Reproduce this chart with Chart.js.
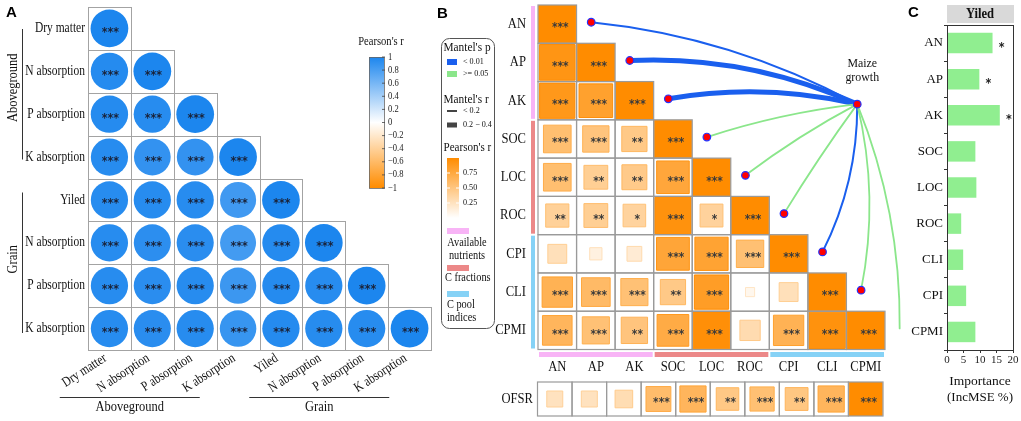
<!DOCTYPE html>
<html><head><meta charset="utf-8">
<script src="https://cdn.jsdelivr.net/npm/chart.js@4.4.1/dist/chart.umd.min.js"></script>
<style>
html,body{margin:0;padding:0;background:#fff;}
#wrap{position:relative;width:1021px;height:421px;overflow:hidden;background:#fff;}
canvas{position:absolute;}
</style></head><body>
<div id="wrap">
<canvas id="cA" width="440" height="421" style="left:0px;top:0px"></canvas>
<canvas id="cB" width="475" height="378" style="left:430px;top:0px"></canvas>
<canvas id="cO" width="475" height="43" style="left:430px;top:378px"></canvas>
<canvas id="cC" width="131" height="421" style="left:890px;top:0px"></canvas>
</div>
<script>
// ---------------- DATA ----------------
// Panel A
const rowsA = ['Dry matter','N absorption','P absorption','K absorption','Yiled','N absorption','P absorption','K absorption'];
const corrA = [
  [1],
  [0.96,1],
  [0.96,0.95,1],
  [0.95,0.90,0.90,1],
  [0.95,0.95,0.95,0.84,1],
  [0.95,0.93,0.94,0.83,0.96,1],
  [0.95,0.94,0.95,0.86,0.96,0.95,1],
  [0.95,0.94,0.95,0.88,0.96,0.95,0.95,1]
];
const sigA = [
  ['***'],
  ['***','***'],
  ['***','***','***'],
  ['***','***','***','***'],
  ['***','***','***','***','***'],
  ['***','***','***','***','***','***'],
  ['***','***','***','***','***','***','***'],
  ['***','***','***','***','***','***','***','***']
];
const groupsA = [{name:'Aboveground',from:0,to:3},{name:'Grain',from:4,to:7}];
const cbTicksA = [1,0.8,0.6,0.4,0.2,0,-0.2,-0.4,-0.6,-0.8,-1];

// Panel B
const varsB = ['AN','AP','AK','SOC','LOC','ROC','CPI','CLI','CPMI'];
const corrB = [
  [1],
  [0.92,1],
  [0.90,0.82,1],
  [0.56,0.51,0.47,1],
  [0.56,0.42,0.46,0.77,1],
  [0.40,0.42,0.38,0.95,0.39,1],
  [0.27,0.12,0.17,0.78,0.80,0.55,1],
  [0.67,0.60,0.54,0.47,0.85,0.07,0.27,1],
  [0.64,0.54,0.51,0.73,0.97,0.31,0.67,0.95,1]
];
const sigB = [
  ['***'],
  ['***','***'],
  ['***','***','***'],
  ['***','***','**','***'],
  ['***','**','**','***','***'],
  ['**','**','*','***','*','***'],
  ['','','','***','***','***','***'],
  ['***','***','***','**','***','','','***'],
  ['***','***','**','***','***','','***','***','***']
];
const groupsB = [
  {name:'Available nutrients',from:0,to:2},
  {name:'C fractions',from:3,to:5},
  {name:'C pool indices',from:6,to:8}
];
const ofsrR   = [0.25,0.25,0.30,0.58,0.64,0.48,0.55,0.49,0.64,1];
const ofsrSig = ['','','','***','***','**','***','**','***','***'];
const mantelP = ['< 0.01','< 0.01','< 0.01','>= 0.05','>= 0.05','>= 0.05','< 0.01','>= 0.05','>= 0.05'];
const mantelR = ['< 0.2','0.2 - 0.4','0.2 - 0.4','< 0.2','< 0.2','< 0.2','< 0.2','< 0.2','< 0.2'];
const pearsonTicksB = [0.75,0.50,0.25];

// Panel C
const varsC = ['AN','AP','AK','SOC','LOC','ROC','CLI','CPI','CPMI'];
const incMSE = [13.8,9.8,16.0,8.6,8.9,4.3,4.9,5.8,8.6];
const sigC = ['*','*','*','','','','','',''];
const ticksC = [0,5,10,15,20];

// ---------------- STYLE ----------------
const SERIF = '"Liberation Serif","Times New Roman",serif';
const SANS = '"Liberation Sans",Arial,sans-serif';
const STARF = '"DejaVu Sans",sans-serif';
const BLUE = [28,134,238], ORANGE = [255,140,0];
function mix(c,t){t=Math.max(0,Math.min(1,t));return 'rgb('+Math.round(255+(c[0]-255)*t)+','+Math.round(255+(c[1]-255)*t)+','+Math.round(255+(c[2]-255)*t)+')';}
function colA(v){return v>=0?mix(BLUE,v):mix(ORANGE,-v);}
function colB(v){return mix(ORANGE,Math.abs(v));}
const groupColorsB = ['#F8B4F6','#EC8888','#86D2F6'];
const pColors = {'< 0.01':'#1A5FEE','>= 0.05':'#8BE68B'};
const rWidths = {'< 0.2':2,'0.2 - 0.4':5};
const curvB = [0.10,0.12,0.10,0.05,0.04,0.02,-0.12,-0.11,-0.10];
const mantelNode = {x:7.78,y:2.09};

function txt(ctx,s,x,y,font,color,align,base,sx){
  ctx.save();ctx.translate(x,y);ctx.scale(sx||1,1);
  ctx.font=font;ctx.fillStyle=color||'#111';ctx.textAlign=align||'left';ctx.textBaseline=base||'middle';ctx.fillText(s,0,0);
  ctx.restore();
}
function stxt(ctx,s,x,y,size,align,sx,color){txt(ctx,s,x,y,size+'px '+SERIF,color||'#111',align||'left','middle',sx||0.86);}
function stars(ctx,s,x,y,size,color){txt(ctx,s,x,y+0.58*size,'bold '+size+'px '+STARF,color,'center','alphabetic',0.85);}
function cellSize(chart){
  const xs=chart.scales.x, ys=chart.scales.y;
  return Math.min(Math.abs(xs.getPixelForValue(1)-xs.getPixelForValue(0)),Math.abs(ys.getPixelForValue(1)-ys.getPixelForValue(0)));
}
const baseOpts = {responsive:false,animation:false,events:[],plugins:{legend:{display:false},tooltip:{enabled:false}}};

// ---------------- PANEL A ----------------
const ptsA=[];corrA.forEach((row,i)=>row.forEach((v,j)=>ptsA.push({x:j,y:i,v:v,s:sigA[i][j]})));
const pluginA={
  id:'pA',
  beforeDatasetsDraw(chart){
    const {ctx,scales:{x,y}}=chart;ctx.save();
    ctx.strokeStyle='#a3a3a3';ctx.lineWidth=1;
    corrA.forEach((row,i)=>row.forEach((v,j)=>{
      const x0=Math.round(x.getPixelForValue(j-0.5))+0.5,x1=Math.round(x.getPixelForValue(j+0.5))+0.5;
      const y0=Math.round(y.getPixelForValue(i-0.5))+0.5,y1=Math.round(y.getPixelForValue(i+0.5))+0.5;
      ctx.strokeRect(x0,y0,x1-x0,y1-y0);
    }));
    ctx.restore();
  },
  afterDatasetsDraw(chart){
    const {ctx}=chart;ctx.save();
    const meta=chart.getDatasetMeta(0);
    meta.data.forEach((el,k)=>{const p=ptsA[k];if(p.s)stars(ctx,p.s,el.x+1,el.y,13,'#1a2238');});
    ctx.restore();
  },
  afterDraw(chart){
    const {ctx,scales:{x,y}}=chart;ctx.save();
    rowsA.forEach((r,i)=>stxt(ctx,r,x.getPixelForValue(-0.5)-3,y.getPixelForValue(i),14,'right',0.82));
    const yb=y.getPixelForValue(7.5);
    rowsA.forEach((r,j)=>{
      ctx.save();ctx.translate(x.getPixelForValue(j)-4,yb+7);ctx.rotate(-33*Math.PI/180);
      stxt(ctx,r,0,0,14,'right',0.82);ctx.restore();
    });
    const shiftX=[44,26];
    groupsA.forEach((g,k)=>{
      const cx=x.getPixelForValue((g.from+g.to)/2)-shiftX[k];
      ctx.strokeStyle='#333';ctx.lineWidth=1;ctx.beginPath();ctx.moveTo(cx-70,397.5);ctx.lineTo(cx+70,397.5);ctx.stroke();
      stxt(ctx,g.name,cx,407,14.5,'center',0.86);
    });
    groupsA.forEach((g,k)=>{
      const y0=y.getPixelForValue(g.from-0.5)+(k===0?22:14), y1=y.getPixelForValue(g.to+0.5)-(k===0?19:17);
      ctx.strokeStyle='#333';ctx.lineWidth=1;ctx.beginPath();ctx.moveTo(22.5,y0);ctx.lineTo(22.5,y1);ctx.stroke();
      ctx.save();ctx.translate(13,y.getPixelForValue((g.from+g.to)/2)-5);ctx.rotate(-Math.PI/2);
      stxt(ctx,g.name,0,0,14.5,'center',0.86);ctx.restore();
    });
    const cb={x0:369,x1:384,y0:57,y1:188};
    const gr=ctx.createLinearGradient(0,cb.y0,0,cb.y1);
    gr.addColorStop(0,colA(1));gr.addColorStop(0.5,'#ffffff');gr.addColorStop(1,colA(-1));
    ctx.fillStyle=gr;ctx.fillRect(cb.x0,cb.y0,cb.x1-cb.x0,cb.y1-cb.y0);
    ctx.strokeStyle='#666';ctx.lineWidth=0.8;ctx.strokeRect(cb.x0+0.5,cb.y0+0.5,cb.x1-cb.x0,cb.y1-cb.y0);
    cbTicksA.forEach(v=>{
      const yy=cb.y0+(1-v)/2*(cb.y1-cb.y0);
      ctx.strokeStyle='#444';ctx.beginPath();ctx.moveTo(cb.x1-2,yy);ctx.lineTo(cb.x1+1,yy);ctx.stroke();
      const s=v===0?'0':(v<0?'\u2212'+Math.abs(v):String(v));
      stxt(ctx,s,cb.x1+4,yy,9.5,'left',0.9,'#222');
    });
    stxt(ctx,"Pearson's r",381,42,12,'center',0.88);
    txt(ctx,'A',6,13,'bold 15px '+SANS,'#000','left');
    ctx.restore();
  }
};
new Chart(document.getElementById('cA'),{
  type:'scatter',
  data:{datasets:[{data:ptsA,pointStyle:'circle',
    pointRadius:ctx=>ctx.raw?cellSize(ctx.chart)*0.44*Math.pow(Math.abs(ctx.raw.v),0.25):3,
    pointHoverRadius:ctx=>ctx.raw?cellSize(ctx.chart)*0.44*Math.pow(Math.abs(ctx.raw.v),0.25):3,
    pointBackgroundColor:ctx=>ctx.raw?colA(ctx.raw.v):'#000',pointBorderWidth:0}]},
  options:Object.assign({},baseOpts,{
    layout:{padding:{left:88,right:9,top:7,bottom:71}},
    scales:{x:{type:'linear',min:-0.5,max:7.5,display:false},y:{type:'linear',min:-0.5,max:7.5,reverse:true,display:false}}
  }),
  plugins:[pluginA]
});

// ---------------- PANEL B ----------------
const ptsB=[];corrB.forEach((row,i)=>row.forEach((v,j)=>ptsB.push({x:j,y:i,r:v,s:sigB[i][j]})));
const mantelPts=varsB.map((v,i)=>({x:i+0.88,y:i-0.05}));mantelPts.push(mantelNode);
function sqRadius(ctx){
  if(!ctx.raw)return 3;
  const c=cellSize(ctx.chart);const side=Math.min(c-1,c*Math.sqrt(Math.abs(ctx.raw.r))-1);
  return side/Math.SQRT2;
}
function drawStars(ctx,meta,pts){
  meta.data.forEach((el,k)=>{const p=pts[k];if(p.s)stars(ctx,p.s,el.x+3,el.y,12.5,'#3a3a3a');});
}
function drawCells(chart,list){
  const {ctx,scales:{x,y}}=chart;
  ctx.strokeStyle='#9a9a9a';ctx.lineWidth=1.2;
  list.forEach(p=>{
    const x0=x.getPixelForValue(p.x-0.5),x1=x.getPixelForValue(p.x+0.5);
    const y0=y.getPixelForValue(p.y-0.5),y1=y.getPixelForValue(p.y+0.5);
    ctx.strokeRect(x0,y0,x1-x0,y1-y0);
  });
}
const pluginB={
  id:'pB',
  beforeDatasetsDraw(chart){
    const {ctx}=chart;ctx.save();
    const meta=chart.getDatasetMeta(1);const node=meta.data[varsB.length];
    varsB.forEach((v,i)=>{
      const p=meta.data[i];const dx=node.x-p.x,dy=node.y-p.y;
      const cx=(p.x+node.x)/2+curvB[i]*dy, cy=(p.y+node.y)/2-curvB[i]*dx;
      ctx.strokeStyle=pColors[mantelP[i]];ctx.lineWidth=rWidths[mantelR[i]]*(mantelP[i]==='< 0.01'?1:0.9);ctx.lineCap='round';
      ctx.beginPath();ctx.moveTo(p.x,p.y);ctx.quadraticCurveTo(cx,cy,node.x,node.y);ctx.stroke();
    });
    ctx.restore();
  },
  afterDatasetsDraw(chart){
    const {ctx}=chart;ctx.save();
    drawCells(chart,ptsB);
    drawStars(ctx,chart.getDatasetMeta(0),ptsB);
    ctx.restore();
  },
  afterDraw(chart){
    const {ctx,scales:{x,y}}=chart;ctx.save();
    varsB.forEach((v,i)=>stxt(ctx,v,96,y.getPixelForValue(i),14.5,'right',0.87));
    varsB.forEach((v,j)=>stxt(ctx,v,x.getPixelForValue(j),367,14.5,'center',0.87));
    groupsB.forEach((g,k)=>{
      ctx.fillStyle=groupColorsB[k];
      const y0=y.getPixelForValue(g.from-0.5)+1,y1=y.getPixelForValue(g.to+0.5)-1;
      ctx.fillRect(101,y0,4,y1-y0);
      const x0=x.getPixelForValue(g.from-0.5)+1,x1=x.getPixelForValue(g.to+0.5)-1;
      ctx.fillRect(x0,352,x1-x0,5);
    });
    const node=chart.getDatasetMeta(1).data[varsB.length];
    stxt(ctx,'Maize',node.x+5,node.y-41,13.5,'center',0.88);
    stxt(ctx,'growth',node.x+5,node.y-27,13.5,'center',0.88);
    ctx.strokeStyle='#555';ctx.lineWidth=1;ctx.beginPath();
    if(ctx.roundRect)ctx.roundRect(11.5,38.5,53,290,8);else ctx.rect(11.5,38.5,53,290);
    ctx.stroke();
    const LT=13.5, LI=9, LG=12;
    stxt(ctx,"Mantel's p",13.5,47,LT,'left',0.84);
    ctx.fillStyle=pColors['< 0.01'];ctx.fillRect(17,59,10,6);stxt(ctx,'< 0.01',33,62,LI,'left',0.9);
    ctx.fillStyle=pColors['>= 0.05'];ctx.fillRect(17,71,10,6);stxt(ctx,'>= 0.05',33,74,LI,'left',0.9);
    stxt(ctx,"Mantel's r",13.5,99,LT,'left',0.84);
    ctx.strokeStyle='#444';ctx.lineWidth=2;ctx.beginPath();ctx.moveTo(17,111);ctx.lineTo(27,111);ctx.stroke();
    stxt(ctx,'< 0.2',33,111,LI,'left',0.9);
    ctx.fillStyle='#444';ctx.fillRect(17,122.5,10,5);stxt(ctx,'0.2 \u2212 0.4',33,125,LI,'left',0.9);
    stxt(ctx,"Pearson's r",13.5,147,LT,'left',0.82);
    const gr=ctx.createLinearGradient(0,158,0,218);gr.addColorStop(0,colB(1));gr.addColorStop(1,colB(0));
    ctx.fillStyle=gr;ctx.fillRect(17,158,12,60);
    pearsonTicksB.forEach(v=>{
      const yy=218-v*60;ctx.strokeStyle='#fff';ctx.lineWidth=1;
      ctx.beginPath();ctx.moveTo(17,yy);ctx.lineTo(20,yy);ctx.moveTo(26,yy);ctx.lineTo(29,yy);ctx.stroke();
      stxt(ctx,v.toFixed(2),33,yy,LI,'left',0.9);
    });
    ctx.fillStyle=groupColorsB[0];ctx.fillRect(17,228,22,6);
    stxt(ctx,'Available',37,243,LG,'center',0.86);stxt(ctx,'nutrients',37,256,LG,'center',0.86);
    ctx.fillStyle=groupColorsB[1];ctx.fillRect(17,265,22,6);
    stxt(ctx,'C fractions',15,278,LG,'left',0.86);
    ctx.fillStyle=groupColorsB[2];ctx.fillRect(17,291,22,6);
    stxt(ctx,'C pool',17,305,LG,'left',0.86);stxt(ctx,'indices',17,318,LG,'left',0.86);
    txt(ctx,'B',7,14,'bold 15px '+SANS,'#000','left');
    ctx.restore();
  }
};
new Chart(document.getElementById('cB'),{
  type:'scatter',
  data:{datasets:[
    {data:ptsB,pointStyle:'rect',pointRadius:sqRadius,pointHoverRadius:sqRadius,
     pointBackgroundColor:ctx=>ctx.raw?colB(ctx.raw.r):'#000',
     pointBorderColor:ctx=>ctx.raw?colB(Math.min(1,ctx.raw.r+0.15)):'#000',pointBorderWidth:1},
    {data:mantelPts,pointStyle:'circle',pointRadius:3.8,pointHoverRadius:3.8,pointBackgroundColor:'#FF0000',pointBorderColor:'#2233FF',pointBorderWidth:1.2}
  ]},
  options:Object.assign({},baseOpts,{
    layout:{padding:{left:108,right:20,top:5,bottom:28.5}},
    scales:{x:{type:'linear',min:-0.5,max:8.5,display:false},y:{type:'linear',min:-0.5,max:8.5,reverse:true,display:false}}
  }),
  plugins:[pluginB]
});

// OFSR row
const ptsO=ofsrR.map((v,j)=>({x:j,y:0,r:v,s:ofsrSig[j]}));
const pluginO={
  id:'pO',
  afterDatasetsDraw(chart){
    const {ctx,scales:{y}}=chart;ctx.save();
    drawCells(chart,ptsO);
    drawStars(ctx,chart.getDatasetMeta(0),ptsO);
    stxt(ctx,'OFSR',103,y.getPixelForValue(0),14.5,'right',0.87);
    ctx.restore();
  }
};
new Chart(document.getElementById('cO'),{
  type:'scatter',
  data:{datasets:[{data:ptsO,pointStyle:'rect',pointRadius:sqRadius,pointHoverRadius:sqRadius,
    pointBackgroundColor:ctx=>ctx.raw?colB(ctx.raw.r):'#000',
    pointBorderColor:ctx=>ctx.raw?colB(Math.min(1,ctx.raw.r+0.15)):'#000',pointBorderWidth:1}]},
  options:Object.assign({},baseOpts,{
    layout:{padding:{left:107.5,right:22,top:4,bottom:5}},
    scales:{x:{type:'linear',min:-0.5,max:9.5,display:false},y:{type:'linear',min:-0.5,max:0.5,reverse:true,display:false}}
  }),
  plugins:[pluginO]
});

// ---------------- PANEL C ----------------
const pluginC={
  id:'pC',
  afterDraw(chart){
    const {ctx,chartArea:a}=chart;ctx.save();
    ctx.strokeStyle='#333';ctx.lineWidth=1;ctx.strokeRect(Math.round(a.left)+0.5,Math.round(a.top)+0.5,Math.round(a.right-a.left),Math.round(a.bottom-a.top));
    ctx.fillStyle='#D9D9D9';ctx.fillRect(a.left,a.top-20,a.right-a.left+1,18);
    txt(ctx,'Yiled',(a.left+a.right)/2,a.top-11,'bold 14px '+SERIF,'#111','center','middle',0.9);
    const meta=chart.getDatasetMeta(0);
    meta.data.forEach((el,i)=>{if(sigC[i])stars(ctx,sigC[i],el.x+9,el.y,13,'#222');});
    txt(ctx,'C',18,13,'bold 15px '+SANS,'#000','left');
    ctx.restore();
  }
};
new Chart(document.getElementById('cC'),{
  type:'bar',
  data:{labels:varsC,datasets:[{data:incMSE,backgroundColor:'#90EE90',borderWidth:0,barPercentage:0.9,categoryPercentage:0.63}]},
  options:Object.assign({},baseOpts,{
    indexAxis:'y',
    layout:{padding:{left:0,right:8,top:25,bottom:0}},
    scales:{
      x:{type:'linear',min:0,max:20,
         afterBuildTicks:s=>{s.ticks=ticksC.map(v=>({value:v}));},
         ticks:{font:{family:'Liberation Serif',size:11},color:'#222',padding:1,maxRotation:0,autoSkip:false},
         grid:{display:true,drawOnChartArea:false,drawTicks:true,tickLength:3,color:'#333'},
         border:{display:true,color:'#333'},
         title:{display:true,text:['Importance','(IncMSE %)'],font:{family:'Liberation Serif',size:13.5},color:'#111',padding:{top:0,bottom:15}},
         afterFit:s=>{s.height=71;}},
      y:{ticks:{font:{family:'Liberation Serif',size:13},color:'#111',padding:1,autoSkip:false},
         grid:{display:true,drawOnChartArea:false,drawTicks:true,tickLength:3,color:'#333'},
         border:{display:true,color:'#333'},
         afterFit:s=>{s.width=57;}}
    }
  }),
  plugins:[pluginC]
});
</script>
</body></html>
